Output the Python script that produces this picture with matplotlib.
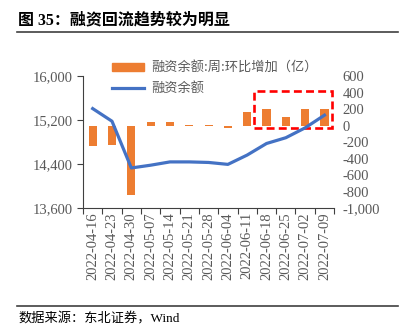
import numpy as np
import matplotlib.pyplot as plt
from matplotlib.patches import Rectangle
from matplotlib.lines import Line2D

plt.rcParams['font.family'] = ['Liberation Serif', 'Noto Sans CJK SC']

dates = ['2022-04-16', '2022-04-23', '2022-04-30', '2022-05-07', '2022-05-14',
         '2022-05-21', '2022-05-28', '2022-06-04', '2022-06-11', '2022-06-18',
         '2022-06-25', '2022-07-02', '2022-07-09']
# 融资余额 (亿)
balance = [15410, 15180, 14330, 14380, 14440, 14440, 14430, 14395, 14565, 14775,
           14880, 15060, 15290]
# 周环比增加 (亿)
weekly_change = [-250, -240, -840, 50, 50, 6, 6, -30, 160, 200, 100, 205, 205]

orange = '#ED7D31'
blue = '#4472C4'
gray = '#595959'
mixed = ['Liberation Serif', 'Noto Sans CJK SC']

fig = plt.figure(figsize=(4.05, 3.34), dpi=100)
ax = fig.add_axes([0.205, 0.377, 0.62, 0.395])
ax2 = ax.twinx()

x = np.arange(len(dates))
ax2.bar(x, weekly_change, width=0.42, color=orange, zorder=2)
ax.plot(x, balance, color=blue, lw=2.3, zorder=3)

# line above the bars
ax.set_zorder(ax2.get_zorder() + 1)
ax.patch.set_visible(False)

ax.set_xlim(-0.5, len(dates) - 0.5)
ax.set_ylim(13600, 16000)
ax.set_yticks([13600, 14400, 15200, 16000])
ax.set_yticklabels(['{:,}'.format(v) for v in [13600, 14400, 15200, 16000]])
ax2.set_ylim(-1000, 600)
ax2.set_yticks(np.arange(-1000, 601, 200))
ax2.set_yticklabels(['{:,}'.format(v) for v in np.arange(-1000, 601, 200)])

ax.set_xticks(np.arange(-0.5, len(dates), 1))
ax.set_xticklabels([])
ax.set_xticks(x, minor=True)
ax.set_xticklabels(dates, minor=True, rotation=90)
ax.tick_params(axis='x', which='minor', length=0, pad=3, labelsize=10.5, labelcolor=gray)
ax.tick_params(axis='x', which='major', length=4, color='#404040')
ax.tick_params(axis='y', length=4, labelsize=10.5, labelcolor=gray, color='#404040')
ax2.tick_params(axis='y', length=0, labelsize=10.5, labelcolor=gray, pad=6)

for a in (ax, ax2):
    a.spines['top'].set_visible(False)
    a.spines['right'].set_visible(False)
ax2.spines['left'].set_visible(False)
ax2.spines['bottom'].set_visible(False)
ax.spines['left'].set_color('#404040')
ax.spines['bottom'].set_color('#404040')

# highlight box around the recent inflows
ax2.add_patch(Rectangle((8.36, -30), 4.04, 448, fill=False, ec='#FF0000',
                        lw=1.9, ls=(0, (3, 1.6)), zorder=4, clip_on=False))

handles = [Rectangle((0, 0), 1, 1, color=orange),
           Line2D([], [], color=blue, lw=2.3)]
labels = ['融资余额:周:环比增加（亿）', '融资余额']
fig.legend(handles, labels, loc='upper left', bbox_to_anchor=(0.26, 0.835),
           frameon=False, labelcolor=gray, handlelength=2.4,
           handleheight=0.6, labelspacing=0.55, borderpad=0, handletextpad=0.6,
           prop={'family': ['Noto Sans CJK SC'], 'size': 9.5})

fig.text(0.045, 0.94, '图 35：融资回流趋势较为明显', fontsize=11.5, fontweight='bold',
         family=mixed, va='center')
fig.add_artist(Line2D([0.042, 0.983], [0.904, 0.904], color='#404040', lw=1.2))
fig.add_artist(Line2D([0.042, 0.983], [0.083, 0.083], color='#404040', lw=1.2))
fig.text(0.045, 0.045, '数据来源：东北证券，Wind', fontsize=9.5,
         family=mixed, va='center')

fig.savefig('out.png', dpi=100)
